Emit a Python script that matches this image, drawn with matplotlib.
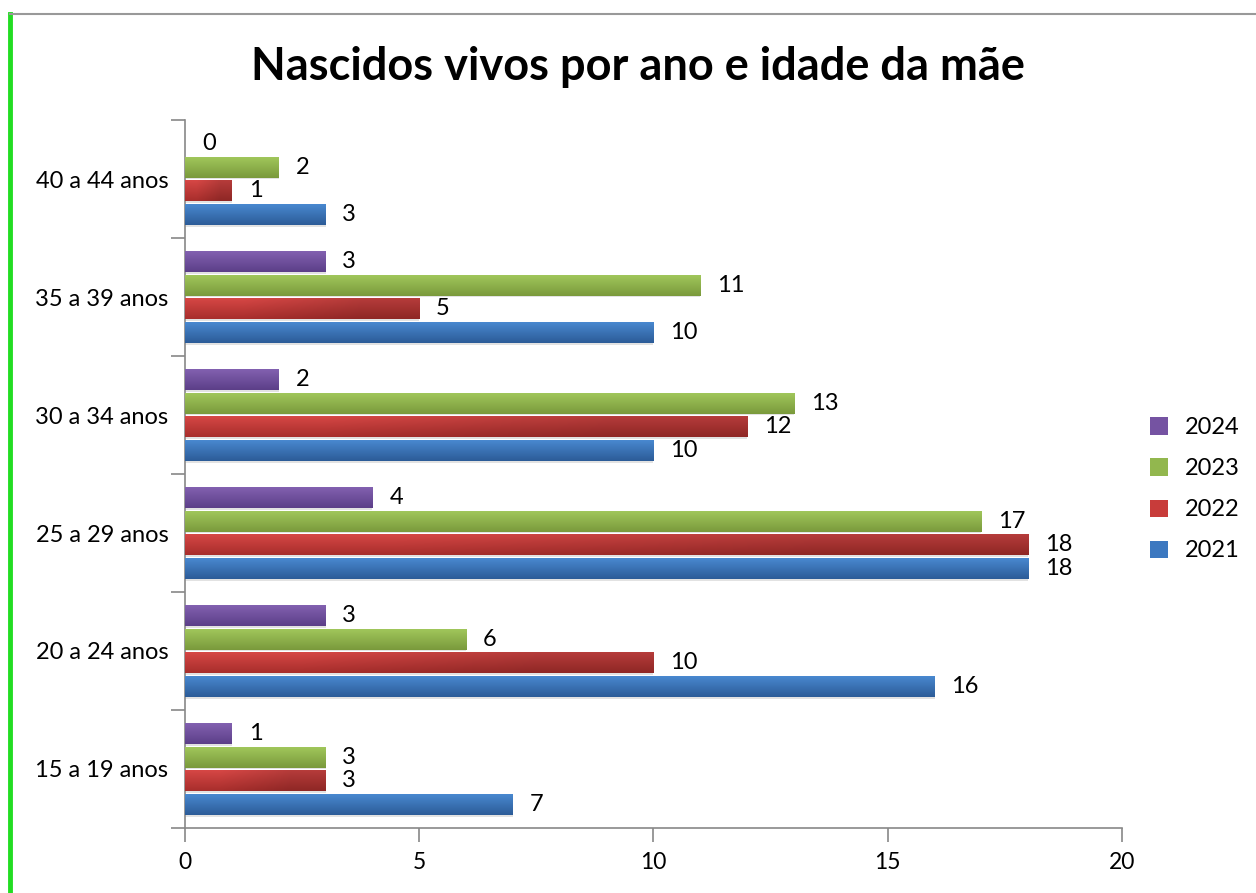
import numpy as np
import matplotlib
matplotlib.use("Agg")
import matplotlib.pyplot as plt
from matplotlib.colors import to_rgb
from matplotlib.patches import Patch
from matplotlib.lines import Line2D

categories = ["15 a 19 anos", "20 a 24 anos", "25 a 29 anos", "30 a 34 anos", "35 a 39 anos", "40 a 44 anos"]
years = ["2021", "2022", "2023", "2024"]
v2021 = [7, 16, 18, 10, 10, 3]
v2022 = [3, 10, 18, 12, 5, 1]
v2023 = [3, 6, 17, 13, 11, 2]
v2024 = [1, 3, 4, 2, 3, 0]
series = [v2021, v2022, v2023, v2024]
xticks = [0, 5, 10, 15, 20]
title = "Nascidos vivos por ano e idade da mãe"

base_colors = ["#3c78c0", "#c83c3a", "#92b74e", "#7553a2"]
top_colors = ["#4a8ad2", "#d84846", "#a2c85c", "#8462b2"]
bot_colors = ["#2c5c98", "#a82e2c", "#7a9a3c", "#5c3f88"]

plt.rcParams['font.family'] = ['Lato', 'DejaVu Sans']

fig = plt.figure(figsize=(12.56, 8.93), dpi=100)
ax = fig.add_axes([0.1473, 0.0728, 0.746, 0.7928])

step = 0.2
height = 0.178
y = np.arange(len(categories))
offsets = [-1.5 * step, -0.5 * step, 0.5 * step, 1.5 * step]

for k, vals in enumerate(series):
    ys = y + offsets[k]
    ax.barh(ys - 0.014, vals, height=height, left=0.0, color="#d0d0d0", alpha=0.6, zorder=1, linewidth=0)
    bars = ax.barh(ys, vals, height=height, color=base_colors[k], zorder=2, linewidth=0, label=years[k])
    c_top = np.array(to_rgb(top_colors[k]))
    c_bot = np.array(to_rgb(bot_colors[k]))
    t = np.linspace(0, 1, 32)[:, None]
    grad = c_bot[None, :] * (1 - t) + c_top[None, :] * t
    grad = np.repeat(grad[:, None, :], 2, axis=1)
    if k == 1:
        h = np.linspace(1.0, 0.85, 2)[None, :, None]
        grad = grad * h
    for bar, v, yy in zip(bars, vals, ys):
        if v > 0:
            im = ax.imshow(grad, extent=[0, v, yy - height / 2, yy + height / 2], origin="lower",
                           aspect="auto", zorder=3, interpolation="bilinear")
            im.set_clip_path(bar)
        ax.text(v + 0.36, yy, str(v), va="center", ha="left", fontsize=17, color="black", zorder=4)

ax.set_xlim(0, 20)
ax.set_ylim(-0.5, len(categories) - 0.5)
ax.set_xticks(xticks)
ax.set_xticklabels([str(x) for x in xticks], fontsize=16.5)
ax.set_yticks(y)
ax.set_yticklabels(categories, fontsize=17)
ax.set_yticks(np.arange(-0.5, len(categories), 1.0), minor=True)
ax.tick_params(axis="y", which="major", length=0, pad=12)
ax.tick_params(axis="y", which="minor", length=10, color="#888888", width=1.2)
ax.tick_params(axis="x", which="major", length=10, color="#888888", width=1.2, pad=7)
for s in ["top", "right"]:
    ax.spines[s].set_visible(False)
for s in ["left", "bottom"]:
    ax.spines[s].set_color("#888888")
    ax.spines[s].set_linewidth(1.2)

fig.text(0.508, 0.925, title, ha="center", va="center", fontsize=32.5, fontweight="bold")

handles = [Patch(facecolor=base_colors[k], edgecolor="none", label=years[k]) for k in [3, 2, 1, 0]]
fig.legend(handles=handles, loc="center left", bbox_to_anchor=(0.899, 0.452), frameon=False,
           fontsize=17, handlelength=0.75, handleheight=0.75, labelspacing=0.85, handletextpad=0.7)

fig.add_artist(Line2D([10 / 1256, 10 / 1256], [0, 1 - 14 / 893], color="#22dd22", linewidth=3.5))
fig.add_artist(Line2D([10 / 1256, 1], [1 - 14 / 893, 1 - 14 / 893], color="#999999", linewidth=1.5))

fig.savefig("out.png", dpi=100)
